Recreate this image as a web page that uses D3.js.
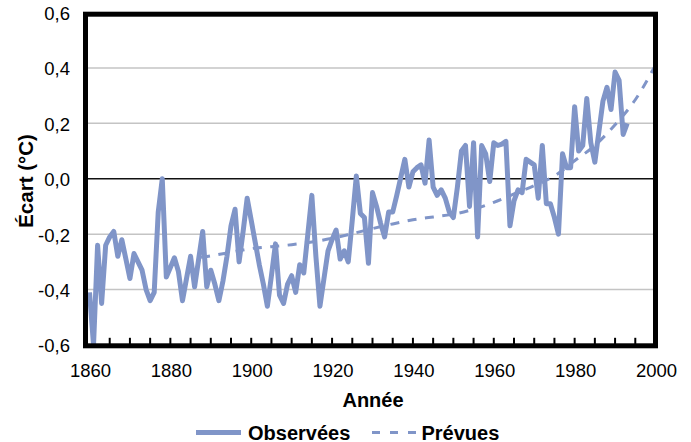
<!DOCTYPE html>
<html><head><meta charset="utf-8">
<script src="https://cdn.jsdelivr.net/npm/d3@7"></script>
<style>body{margin:0;background:#fff} svg{display:block}</style>
</head><body>
<svg id="c" width="691" height="442"></svg>
<script>
// ---- data ----
const observedStartYear = 1860;
const observedValues = [
 -0.41,-0.60,-0.24,-0.45,-0.24,-0.21,-0.19,-0.28,-0.22,-0.29, // 1860s
 -0.36,-0.27,-0.30,-0.33,-0.40,-0.44,-0.41,-0.12,0.00,-0.355, // 1870s
 -0.32,-0.285,-0.335,-0.44,-0.36,-0.28,-0.39,-0.29,-0.19,-0.39, // 1880s
 -0.33,-0.38,-0.44,-0.37,-0.28,-0.17,-0.11,-0.30,-0.19,-0.07, // 1890s
 -0.15,-0.23,-0.31,-0.38,-0.46,-0.35,-0.235,-0.42,-0.45,-0.38, // 1900s
 -0.35,-0.41,-0.31,-0.34,-0.20,-0.06,-0.28,-0.46,-0.36,-0.26, // 1910s
 -0.22,-0.185,-0.29,-0.26,-0.30,-0.15,0.01,-0.125,-0.14,-0.305, // 1920s
 -0.05,-0.10,-0.16,-0.21,-0.12,-0.12,-0.06,0.005,0.07,-0.03, // 1930s
 0.025,0.04,0.05,-0.016,0.14,-0.03,-0.06,-0.04,-0.07,-0.12, // 1940s
 -0.14,-0.03,0.10,0.12,-0.10,0.13,-0.21,0.12,0.09,-0.01, // 1950s
 0.13,0.12,0.125,0.135,-0.17,-0.08,-0.04,-0.05,0.07,0.06, // 1960s
 0.05,-0.07,0.12,-0.09,-0.09,-0.14,-0.20,0.09,0.04,0.04, // 1970s
 0.26,0.10,0.12,0.29,0.13,0.06,0.17,0.28,0.33,0.25, // 1980s
 0.385,0.355,0.16,0.20 // 1990-1993
];
const predictedYears  = [1885,1890,1895,1900,1905,1910,1915,1920,1925,1930,1935,1940,1945,1950,1955,1960,1965,1970,1975,1980,1985,1990,1995,2000];
const predictedValues = [-0.288,-0.278,-0.265,-0.252,-0.245,-0.238,-0.228,-0.215,-0.198,-0.18,-0.163,-0.148,-0.138,-0.128,-0.11,-0.085,-0.055,-0.025,0.01,0.065,0.12,0.195,0.285,0.41];
const xTickLabels = [1860,1880,1900,1920,1940,1960,1980,2000];
const xMinorTicks = [1865,1870,1875,1880,1885,1890,1895,1900,1905,1910,1915,1920,1925,1930,1935,1940,1945,1950,1955,1960,1965,1970,1975,1980,1985,1990,1995];
const yTickValues = [-0.6,-0.4,-0.2,0.0,0.2,0.4,0.6];
const gridValues = [-0.4,-0.2,0.2,0.4];
const seriesNames = ["Observées","Prévues"];
const axisTitles = {x:"Année", y:"Écart (°C)"};

// ---- layout ----
const color = "#8095c8";
const frame = {l:85.5, r:655.5, t:14.2, b:345.8};
const svg = d3.select("#c");
const x = d3.scaleLinear().domain([1860,2000]).range([89.5,655.5]);
const y = d3.scaleLinear().domain([-0.6,0.6]).range([345,12.5]);
const loc = d3.formatLocale({decimal:",", thousands:" ", grouping:[3], currency:["","€"], minus:"-"});
const fmt = loc.format(".1f");

const observed = observedValues.map((v,i)=>({year:observedStartYear+i, v}));
const predicted = predictedYears.map((yr,i)=>({year:yr, v:predictedValues[i]}));

svg.append("defs").append("clipPath").attr("id","pc")
  .append("rect").attr("x",frame.l).attr("y",frame.t).attr("width",frame.r-frame.l).attr("height",frame.b-frame.t);

// gridlines
svg.append("g").selectAll("line").data(gridValues).join("line")
  .attr("x1",frame.l).attr("x2",frame.r)
  .attr("y1",d=>y(d)).attr("y2",d=>y(d))
  .attr("stroke","#c4c4c4").attr("stroke-width",1.5);
// zero line
svg.append("line").attr("x1",frame.l).attr("x2",frame.r)
  .attr("y1",y(0)).attr("y2",y(0)).attr("stroke","#111").attr("stroke-width",1.5);

const plot = svg.append("g").attr("clip-path","url(#pc)");
const predPath = plot.append("path").datum(predicted)
  .attr("d",d3.line().x(d=>x(d.year)).y(d=>y(d.v)).curve(d3.curveMonotoneX))
  .attr("fill","none").attr("stroke",color).attr("stroke-width",3);
const dash = 9, gap = 8.5;
const L = predPath.node().getTotalLength();
predPath.attr("stroke-dasharray",dash+","+gap)
  .attr("stroke-dashoffset", dash - (L % (dash+gap)));
plot.append("path").datum(observed).attr("d",d3.line().x(d=>x(d.year)).y(d=>y(d.v)))
  .attr("fill","none").attr("stroke",color).attr("stroke-width",5)
  .attr("stroke-linejoin","round");

// x ticks (inward)
svg.append("g").selectAll("line").data(xMinorTicks).join("line")
  .attr("x1",d=>x(d)).attr("x2",d=>x(d))
  .attr("y1",frame.b-8).attr("y2",frame.b)
  .attr("stroke","#000").attr("stroke-width",2);

// frame
svg.append("rect").attr("x",frame.l).attr("y",frame.t)
  .attr("width",frame.r-frame.l).attr("height",frame.b-frame.t)
  .attr("fill","none").attr("stroke","#000").attr("stroke-width",5);

const font = "'Liberation Sans', Arial, Helvetica, sans-serif";
// x labels
svg.append("g").selectAll("text").data(xTickLabels).join("text")
  .attr("x",d=>x(d)+1).attr("y",377)
  .attr("text-anchor","middle").attr("font-family",font).attr("font-size",18.5)
  .attr("fill","#000").text(d=>d);
// y labels
svg.append("g").selectAll("text").data(yTickValues).join("text")
  .attr("x",70).attr("y",d=>y(d)+1).attr("dy","0.35em")
  .attr("text-anchor","end").attr("font-family",font).attr("font-size",18.5)
  .attr("fill","#000").text(d=>fmt(d));

// axis titles
svg.append("text").attr("x",373).attr("y",407).attr("text-anchor","middle")
  .attr("font-family",font).attr("font-size",20).attr("font-weight","bold").text(axisTitles.x);
svg.append("text").attr("transform","translate(33,181) rotate(-90)").attr("text-anchor","middle")
  .attr("font-family",font).attr("font-size",20.5).attr("font-weight","bold").text(axisTitles.y);

// legend
const lg = svg.append("g");
lg.append("line").attr("x1",196).attr("x2",241).attr("y1",432.5).attr("y2",432.5)
  .attr("stroke",color).attr("stroke-width",5);
lg.append("text").attr("x",248).attr("y",439.5).attr("font-family",font).attr("font-size",20)
  .attr("font-weight","bold").text(seriesNames[0]);
lg.append("line").attr("x1",372).attr("x2",417).attr("y1",432.5).attr("y2",432.5)
  .attr("stroke",color).attr("stroke-width",3).attr("stroke-dasharray","8,10");
lg.append("text").attr("x",421.5).attr("y",439.5).attr("font-family",font).attr("font-size",20)
  .attr("font-weight","bold").text(seriesNames[1]);
</script>
</body></html>
